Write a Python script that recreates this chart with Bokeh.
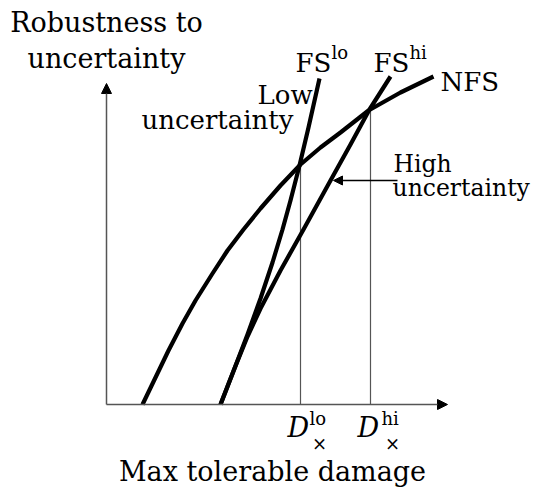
from bokeh.plotting import figure
from bokeh.models import Range1d, Arrow, NormalHead
from bokeh.embed import file_html
from bokeh.resources import INLINE
from bokeh.core.properties import value

# ---- data (arbitrary units) ----
nfs_x = [36, 49, 62, 76, 89, 106, 121, 137, 154, 174, 194, 214, 234, 262, 294, 327]
nfs_y = [0, 27, 54, 81, 104, 131, 154, 175, 196, 219, 240, 257, 272, 294, 312, 328]
fslo_x = [114, 128, 141, 154, 166, 176, 184, 193, 202, 213]
fslo_y = [0, 36, 70, 106, 142, 175, 204, 239, 277, 326]
fshi_x = [114, 128, 141, 154, 174, 197, 224, 244, 263, 284]
fshi_y = [0, 36, 68, 96, 134, 175, 224, 260, 295, 328]
d_cross = [194, 264]          # D_x^lo, D_x^hi
robust_at_cross = [240, 295]  # NFS robustness at the crossings
x_axis_max = 341
y_axis_max = 321

FONT = "DejaVu Serif"
FS_SUP = "18px"
DY = 10  # baseline correction for text placement

p = figure(width=534, height=487, output_backend="svg", toolbar_location=None,
           x_range=Range1d(-106, 428), y_range=Range1d(-83, 404),
           min_border=0, min_border_left=0, min_border_right=0,
           min_border_top=0, min_border_bottom=0)
p.axis.visible = False
p.grid.visible = False
p.outline_line_color = None
p.background_fill_color = "white"
p.border_fill_color = "white"

# axes with arrows
p.add_layout(Arrow(end=NormalHead(size=10, fill_color="black", line_color="black"),
                   x_start=0, y_start=0, x_end=x_axis_max, y_end=0,
                   line_color="#555555", line_width=1.5))
p.add_layout(Arrow(end=NormalHead(size=10, fill_color="black", line_color="black"),
                   x_start=0, y_start=0, x_end=0, y_end=y_axis_max,
                   line_color="#555555", line_width=1.5))

# vertical drop lines
p.segment(x0=d_cross, y0=[0, 0], x1=d_cross, y1=robust_at_cross,
          line_color="#555555", line_width=1.2)

# curves
for xs, ys in [(nfs_x, nfs_y), (fslo_x, fslo_y), (fshi_x, fshi_y)]:
    p.line(xs, ys, line_color="black", line_width=4.2, line_join="round")

# pointer arrow for "High uncertainty"
p.add_layout(Arrow(end=NormalHead(size=9, fill_color="black", line_color="black"),
                   x_start=291, y_start=224, x_end=227, y_end=224,
                   line_color="black", line_width=1.3))

def txt(x, y, s, size="27px", align="left", style="normal", baseline="alphabetic"):
    yy = y + DY if baseline == "alphabetic" else y
    p.text(x=[x], y=[yy], text=[s], text_font=value(FONT), text_font_size=size,
           text_align=align, text_baseline=baseline, text_font_style=style,
           text_color="black")

txt(0, 372, "Robustness to", align="center")
txt(0, 336, "uncertainty", align="center")
txt(151, 300, "Low", size="26px")
txt(187, 275, "uncertainty", size="26px", align="right")
txt(287, 231, "High", size="23.5px")
txt(286, 207, "uncertainty", size="23.5px")
txt(189, 332, "FS", size="26px")
txt(225, 342, "lo", size=FS_SUP)
txt(267, 332, "FS", size="26px")
txt(303, 342, "hi", size=FS_SUP)
txt(334, 313, "NFS", size="26px")
txt(181, -33, "D", style="italic")
txt(203, -24, "lo", size=FS_SUP)
txt(213, -39, "×", size=FS_SUP, align="center", baseline="middle")
txt(251, -33, "D", style="italic")
txt(275, -24, "hi", size=FS_SUP)
txt(286, -39, "×", size=FS_SUP, align="center", baseline="middle")
txt(166, -77, "Max tolerable damage", align="center")

open("out.html", "w").write(file_html(p, INLINE))
